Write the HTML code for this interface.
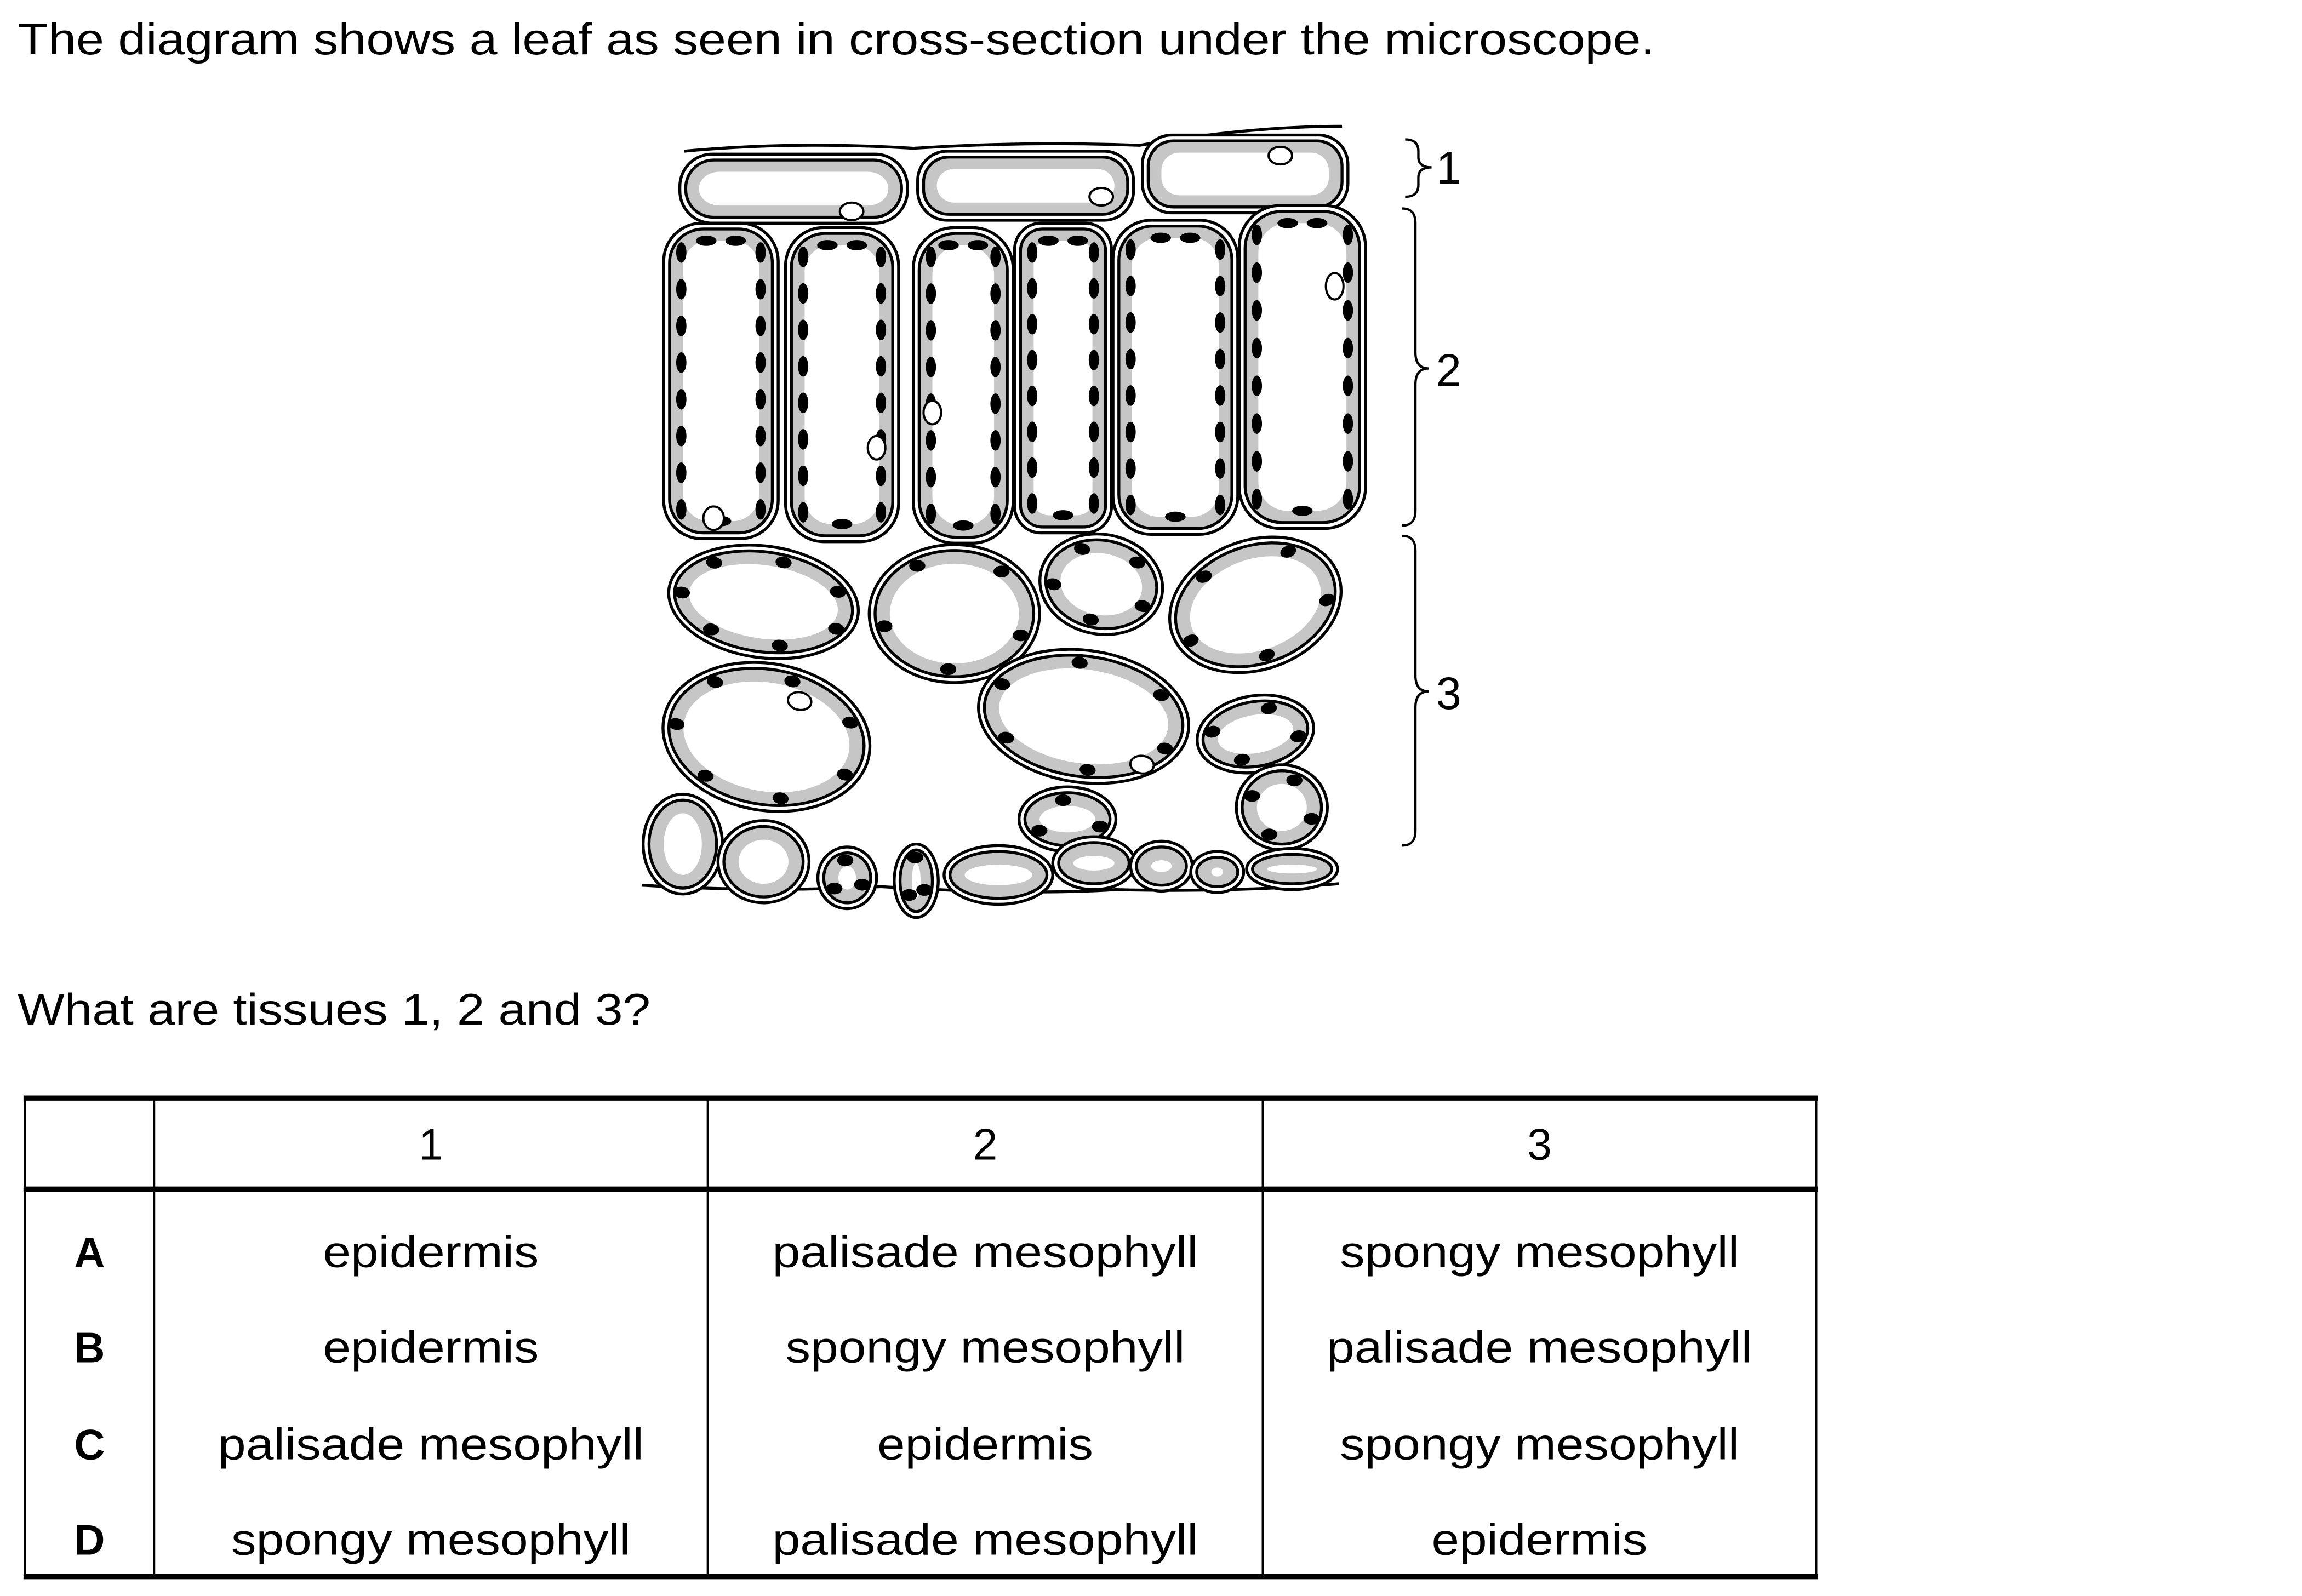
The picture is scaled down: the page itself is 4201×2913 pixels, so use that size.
<!DOCTYPE html>
<html><head><meta charset="utf-8">
<style>
html,body{margin:0;padding:0;background:#fff;}
svg{display:block;}
text{font-family:"Liberation Sans",Arial,sans-serif;fill:#000;}
</style></head>
<body>
<svg id="page" width="4201" height="2913" viewBox="0 0 1567.8 1087.2" preserveAspectRatio="none" xmlns="http://www.w3.org/2000/svg">
<rect width="1568" height="1088" fill="#fff"/>
<text x="12" y="37" font-size="30" textLength="1115" lengthAdjust="spacingAndGlyphs">The diagram shows a leaf as seen in cross-section under the microscope.</text>
<g id="diagram"></g>
<g fill="none" stroke="#000" stroke-width="1.6">
<path d="M957,95 Q966,95 966,103 L966,107 Q966,114 975,114 Q966,114 966,121 L966,126 Q966,134 957,134"/>
<path d="M955,142 Q964,142 964,152 L964,240 Q964,251 973,251 Q964,251 964,262 L964,348 Q964,358 955,358"/>
<path d="M955,365 Q964,365 964,375 L964,460 Q964,471 973,471 Q964,471 964,482 L964,566 Q964,576 955,576"/>
</g>
<text x="978" y="125" font-size="31">1</text>
<text x="978" y="263" font-size="31">2</text>
<text x="978" y="483" font-size="31">3</text>
<text x="12" y="698" font-size="30" textLength="431" lengthAdjust="spacingAndGlyphs">What are tissues 1, 2 and 3?</text>
<g id="table"></g>
</svg>
<script>
const NS='http://www.w3.org/2000/svg';
const diagram=document.getElementById('diagram');
function mk(tag,attrs,parent){const e=document.createElementNS(NS,tag);for(const k in attrs)e.setAttribute(k,attrs[k]);(parent||diagram).appendChild(e);return e;}

let c1=mk('path',{d:'M466,103 Q540,96 622,101 Q700,96 776,99 Q850,86 914,86',fill:'none',stroke:'#000','stroke-width':2});


let c2=mk('path',{d:'M437,603 Q520,608 600,604 Q700,610 760,606 Q840,608 912,602',fill:'none',stroke:'#000','stroke-width':2});



function cellRect(x1,y1,x2,y2,r,name,chlor,vac){
  const g=mk('g',{});
  
  
  mk('rect',{x:x1,y:y1,width:x2-x1,height:y2-y1,rx:r,ry:r,fill:'#fff',stroke:'#000','stroke-width':2},g);
  mk('rect',{x:x1+4,y:y1+4,width:x2-x1-8,height:y2-y1-8,rx:r-3,ry:r-3,fill:'#c6c6c6',stroke:'#000','stroke-width':2},g);
  mk('rect',{x:x1+13,y:y1+12,width:x2-x1-26,height:y2-y1-24,rx:Math.max(r-8,4),ry:Math.max(r-8,4),fill:'#fff'},g);
  if(chlor){
    const n=Math.round((y2-y1-30)/26);
    for(let i=0;i<=n;i++){const y=y1+20+i*(y2-y1-40)/n;
      mk('ellipse',{cx:x1+12,cy:y,rx:3.5,ry:7,fill:'#000'},g);
      mk('ellipse',{cx:x2-12,cy:y,rx:3.5,ry:7,fill:'#000'},g);}
    mk('ellipse',{cx:(x1+x2)/2-10,cy:y1+12,rx:7,ry:3.5,fill:'#000'},g);
    mk('ellipse',{cx:(x1+x2)/2+10,cy:y1+12,rx:7,ry:3.5,fill:'#000'},g);
    mk('ellipse',{cx:(x1+x2)/2,cy:y2-12,rx:7,ry:3.5,fill:'#000'},g);
  }
  if(vac){mk('ellipse',{cx:vac[0],cy:vac[1],rx:vac[2],ry:vac[3],fill:'#fff',stroke:'#000','stroke-width':1.5},g);}
}
cellRect(463,105,618,152,22,'epidermis-cell-1',false,[580,144,8,6]);
cellRect(625,103,772,150,20,'epidermis-cell-2',false,[750,134,8,6]);
cellRect(778,92,918,145,20,'epidermis-cell-3',false,[872,106,8,6]);
cellRect(452,152,530,367,26,'palisade-cell-1',true,[486,353,7,8]);
cellRect(535,155,612,369,26,'palisade-cell-2',true,[597,305,6,8]);
cellRect(622,155,690,370,28,'palisade-cell-3',true,[635,281,6,8]);
cellRect(691,152,757,363,18,'palisade-cell-4',true,null);
cellRect(758,150,843,364,26,'palisade-cell-5',true,null);
cellRect(844,140,930,360,28,'palisade-cell-6',true,[909,195,6,9]);

function cellEll(cx,cy,rx,ry,rot,name,nch,vac){
  const g=mk('g',{transform:`rotate(${rot} ${cx} ${cy})`});
  
  
  mk('ellipse',{cx:cx,cy:cy,rx:rx,ry:ry,fill:'#fff',stroke:'#000','stroke-width':2},g);
  mk('ellipse',{cx:cx,cy:cy,rx:rx-4,ry:ry-4,fill:'#c6c6c6',stroke:'#000','stroke-width':2},g);
  mk('ellipse',{cx:cx,cy:cy,rx:Math.max(rx-14,3),ry:Math.max(ry-13,3),fill:'#fff'},g);
  for(let i=0;i<nch;i++){const a=i/nch*2*Math.PI+0.4;
    mk('ellipse',{cx:cx+(rx-9)*Math.cos(a),cy:cy+(ry-9)*Math.sin(a),rx:5.5,ry:4,fill:'#000'},g);}
  if(vac){mk('ellipse',{cx:vac[0],cy:vac[1],rx:8,ry:6,fill:'#fff',stroke:'#000','stroke-width':1.5},g);}
}
cellEll(520,410,65,38,8,'spongy-cell-1',7);
cellEll(650,418,58,47,0,'spongy-cell-2',5);
cellEll(750,398,42,34,10,'spongy-cell-3',5);
cellEll(855,412,60,44,-20,'spongy-cell-4',5);
cellEll(522,502,71,50,10,'spongy-cell-5',7,[540,474]);
cellEll(738,488,72,45,8,'spongy-cell-6',6,[782,515]);
cellEll(855,500,40,26,-10,'spongy-cell-7',4);
cellEll(873,550,31,29,0,'spongy-cell-8',4);
cellEll(727,558,33,22,0,'spongy-cell-9',3);
cellEll(465,575,27,34,0,'lower-epidermis-cell-1',0);
cellEll(520,587,31,28,0,'lower-epidermis-cell-2',0);
cellEll(577,598,20,21,0,'guard-cell-1',3);
cellEll(624,600,15,25,0,'guard-cell-2',3);
cellEll(680,596,37,20,0,'lower-epidermis-cell-3',0);
cellEll(745,588,28,18,0,'lower-epidermis-cell-4',0);
cellEll(791,590,21,17,0,'lower-epidermis-cell-5',0);
cellEll(829,594,18,14,0,'lower-epidermis-cell-6',0);
cellEll(880,592,31,14,0,'lower-epidermis-cell-7',0);

const table=document.getElementById('table');
const cols=['1','2','3'];
const rowKeys=['A','B','C','D'];
const rowVals=[['epidermis','palisade mesophyll','spongy mesophyll'],['epidermis','spongy mesophyll','palisade mesophyll'],['palisade mesophyll','epidermis','spongy mesophyll'],['spongy mesophyll','palisade mesophyll','epidermis']];
const widths={'epidermis':147,'palisade mesophyll':290,'spongy mesophyll':272};
const L=17,R=1237,T=748,H=810,B=1074,vx=[17,105,482,860,1237];
function line(x1,y1,x2,y2,w,name){const l=mk('line',{x1:x1,y1:y1,x2:x2,y2:y2,stroke:'#000','stroke-width':w},table);

}
line(L-1,T,R+1,T,3.5,'table-top-border');
line(L-1,H,R+1,H,3.5,'table-header-border');
line(L-1,B,R+1,B,3.5,'table-bottom-border');
vx.forEach((x,i)=>line(x,T,x,B,1.4,'table-column-line'));
function txt(x,y,s,size,bold,w,name){const t=mk('text',{x:x,y:y,'text-anchor':'middle','font-size':size},table);
if(bold)t.setAttribute('font-weight','bold');
if(w){t.setAttribute('textLength',w);t.setAttribute('lengthAdjust','spacingAndGlyphs');}
t.textContent=s;

}
const cx=[293.5,671,1048.5];
cols.forEach((c,i)=>txt(cx[i],790,c,30,false,null,'column-header-'+c));
const by=[863,928,994,1059];
rowKeys.forEach((k,r)=>{
  txt(61,by[r],k,29,true,null,'option-'+k);
  rowVals[r].forEach((v,i)=>txt(cx[i],by[r],v,30,false,widths[v],'cell-'+k+'-'+(i+1)));
});
</script>
</body></html>
